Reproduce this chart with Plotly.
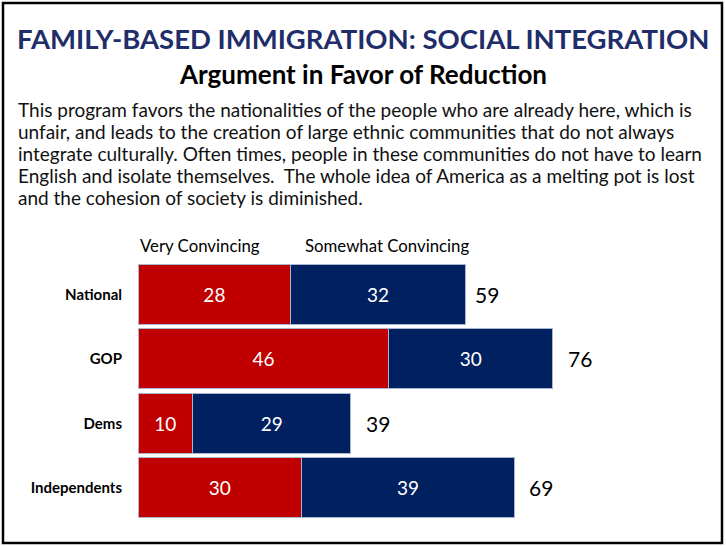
import plotly.graph_objects as go

groups = ['National', 'GOP', 'Dems', 'Independents']
very = [28, 46, 10, 30]
somewhat = [32, 30, 29, 39]
totals = [59, 76, 39, 69]
series_names = ['Very Convincing', 'Somewhat Convincing']

title = 'FAMILY-BASED IMMIGRATION: SOCIAL INTEGRATION'
subtitle = 'Argument in Favor of Reduction'
body_lines = [
    'This program favors the nationalities of the people who are already here, which is',
    'unfair, and leads to the creation of large ethnic communities that do not always',
    'integrate culturally. Often times, people in these communities do not have to learn',
    'English and isolate themselves.  The whole idea of America as a melting pot is lost',
    'and the cohesion of society is diminished.',
]

RED = '#C00000'
NAVY = '#002060'
FONT = 'Lato, Carlito, Calibri, sans-serif'

W, H = 726, 546
ML, MR, MT, MB = 138, 26, 262, 26
PW, PH = W - ML - MR, H - MT - MB


# pixel -> paper coords helpers
def px(x):
    return (x - ML) / PW


def py(y):
    return (H - MB - y) / PH


fig = go.Figure()
fig.add_trace(go.Bar(y=groups, x=very, orientation='h', name=series_names[0],
                     marker=dict(color=RED, line=dict(color='#A9B6D0', width=1)),
                     text=very, textposition='inside', insidetextanchor='middle',
                     textfont=dict(color='white', size=19, family=FONT),
                     constraintext='none'))
fig.add_trace(go.Bar(y=groups, x=somewhat, orientation='h', name=series_names[1],
                     marker=dict(color=NAVY, line=dict(color='#A9B6D0', width=1)),
                     text=somewhat, textposition='inside', insidetextanchor='middle',
                     textfont=dict(color='white', size=19, family=FONT),
                     constraintext='none'))

annotations = []
for g, t in zip(groups, totals):
    annotations.append(dict(x=t, y=g, xref='x', yref='y', text=str(t), showarrow=False,
                            xanchor='left', xshift=13, font=dict(size=21, color='black', family=FONT)))

annotations += [
    dict(x=px(W / 2), y=py(38), xref='paper', yref='paper', text='<b>' + title + '</b>',
         showarrow=False, xanchor='center', yanchor='middle',
         font=dict(size=27.5, color='#1F2D6B', family=FONT)),
    dict(x=px(W / 2), y=py(74), xref='paper', yref='paper', text='<b>' + subtitle + '</b>',
         showarrow=False, xanchor='center', yanchor='middle',
         font=dict(size=26, color='black', family=FONT)),
    dict(x=px(138), y=py(245), xref='paper', yref='paper', text=series_names[0], showarrow=False,
         xanchor='left', yanchor='middle', font=dict(size=16.8, color='black', family=FONT)),
    dict(x=px(303), y=py(245), xref='paper', yref='paper', text=series_names[1], showarrow=False,
         xanchor='left', yanchor='middle', font=dict(size=16.8, color='black', family=FONT)),
]
for i, line in enumerate(body_lines):
    annotations.append(dict(x=px(16), y=py(109 + 22.2 * i), xref='paper', yref='paper', text=line,
                            showarrow=False, xanchor='left', yanchor='middle', align='left',
                            font=dict(size=19, color='#111111', family=FONT)))

fig.update_layout(
    width=W, height=H, barmode='stack', bargap=0.07,
    margin=dict(l=ML, r=MR, t=MT, b=MB),
    plot_bgcolor='white', paper_bgcolor='white', showlegend=False,
    font=dict(family=FONT),
    annotations=annotations,
    shapes=[dict(type='rect', xref='paper', yref='paper',
                 x0=px(3), x1=px(722), y0=py(543), y1=py(3),
                 line=dict(color='black', width=2.5))],
)
fig.update_xaxes(range=[0, 103], visible=False)
fig.update_yaxes(autorange='reversed', showline=False, showgrid=False, ticks='',
                 tickfont=dict(size=15, color='black', family=FONT), ticklabelstandoff=15,
                 tickprefix='<b>', ticksuffix='</b>')

fig.write_html('out.html', config={'displayModeBar': False},
               post_script="document.body.style.margin='0';")
